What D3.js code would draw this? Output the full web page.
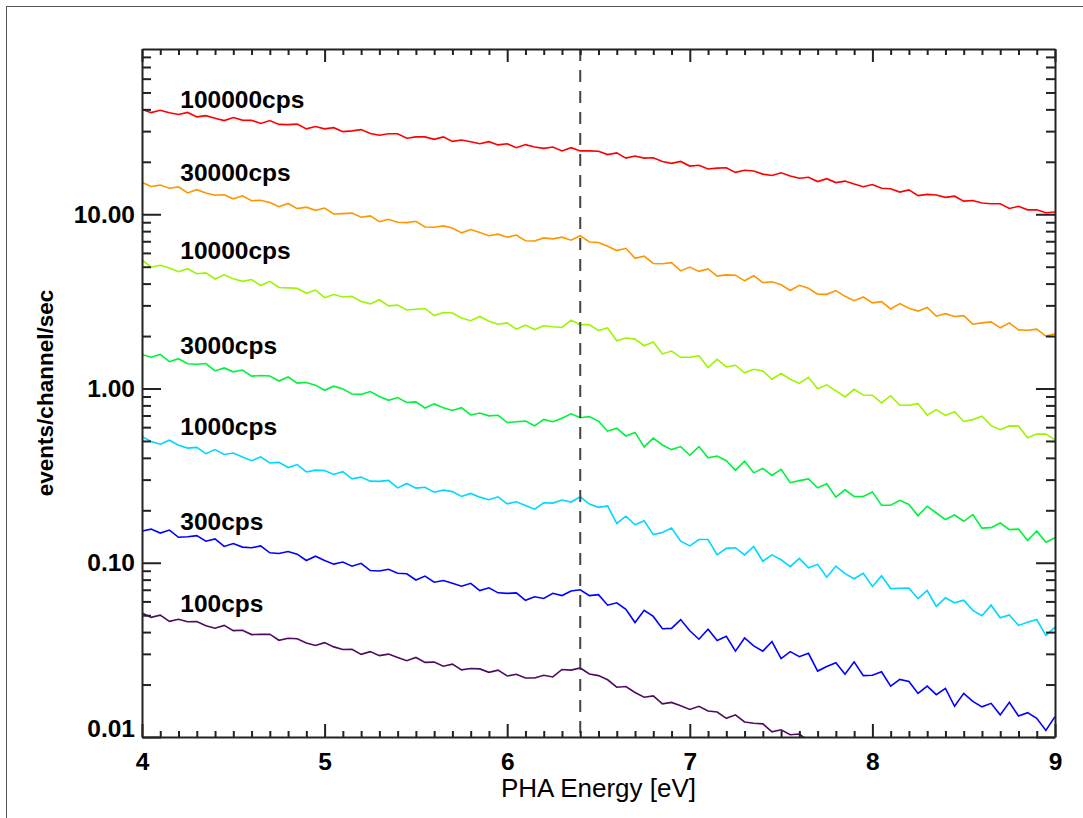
<!DOCTYPE html>
<html lang="en">

<head>
    <meta charset="UTF-8">
    <title>PHA Energy Spectra</title>
    <style>
        body {
            margin: 0;
            background: #fff;
        }

        svg text {
            font-family: "Liberation Sans", Arial, sans-serif;
        }
    </style>
</head>

<body>
    <svg width="1083" height="818"></svg>

    <script src="https://d3js.org/d3.v7.min.js"></script>
    <script>
        // channel energies (eV)
        const energy = [4.00, 4.05, 4.10, 4.15, 4.20, 4.25, 4.30, 4.35, 4.40, 4.45, 4.50, 4.55, 4.60, 4.65, 4.70, 4.75, 4.80, 4.85, 4.90, 4.95,
            5.00, 5.05, 5.10, 5.15, 5.20, 5.25, 5.30, 5.35, 5.40, 5.45, 5.50, 5.55, 5.60, 5.65, 5.70, 5.75, 5.80, 5.85, 5.90, 5.95,
            6.00, 6.05, 6.10, 6.15, 6.20, 6.25, 6.30, 6.35, 6.40, 6.45, 6.50, 6.55, 6.60, 6.65, 6.70, 6.75, 6.80, 6.85, 6.90, 6.95,
            7.00, 7.05, 7.10, 7.15, 7.20, 7.25, 7.30, 7.35, 7.40, 7.45, 7.50, 7.55, 7.60, 7.65, 7.70, 7.75, 7.80, 7.85, 7.90, 7.95,
            8.00, 8.05, 8.10, 8.15, 8.20, 8.25, 8.30, 8.35, 8.40, 8.45, 8.50, 8.55, 8.60, 8.65, 8.70, 8.75, 8.80, 8.85, 8.90, 8.95, 9.00];

        // events/channel/sec for each input rate
        const rate100000 = [40.0, 38.3, 39.5, 38.2, 37.4, 38.4, 36.2, 36.8, 35.6, 34.5,
            35.9, 34.7, 34.6, 33.2, 34.5, 32.8, 32.7, 32.9, 30.9, 31.9,
            30.9, 31.4, 29.8, 30.1, 30.6, 29.1, 28.4, 29.0, 29.0, 27.3,
            27.8, 27.8, 26.9, 27.8, 26.2, 26.7, 26.1, 25.4, 26.1, 25.0,
            25.4, 24.1, 25.1, 24.3, 23.9, 24.3, 23.1, 24.1, 23.1, 23.1,
            23.0, 22.0, 22.5, 21.0, 21.6, 21.0, 21.1, 20.1, 19.6, 20.1,
            18.9, 19.1, 18.2, 18.4, 18.5, 17.4, 17.9, 17.7, 17.0, 16.7,
            17.3, 16.6, 16.1, 16.3, 15.4, 16.0, 15.2, 15.5, 14.9, 14.4,
            14.8, 14.1, 14.0, 13.4, 13.8, 12.8, 13.0, 12.9, 12.5, 12.7,
            11.9, 12.0, 11.6, 11.5, 11.5, 10.8, 11.1, 10.6, 10.6, 10.2,
            10.3];

        const rate30000 = [15.25, 14.44, 14.70, 14.10, 14.35, 13.26, 13.83, 13.26, 12.86, 12.94,
            12.26, 12.77, 11.96, 12.03, 11.67, 11.05, 11.53, 10.78, 10.98, 10.53,
            10.85, 10.03, 10.09, 10.15, 9.61, 9.78, 9.06, 9.36, 8.99, 8.95,
            9.12, 8.45, 8.42, 8.58, 8.34, 7.82, 8.17, 7.85, 7.53, 7.69,
            7.38, 7.60, 7.05, 7.03, 7.32, 7.22, 7.39, 7.10, 7.53, 6.93,
            6.88, 6.55, 6.19, 6.38, 5.59, 5.75, 5.22, 5.20, 5.28, 4.73,
            4.98, 4.70, 4.86, 4.42, 4.49, 4.47, 4.15, 4.44, 4.05, 4.10,
            3.94, 3.65, 3.91, 3.76, 3.48, 3.47, 3.65, 3.38, 3.19, 3.35,
            3.10, 3.15, 2.86, 3.07, 2.89, 2.78, 2.92, 2.60, 2.69, 2.59,
            2.62, 2.34, 2.38, 2.41, 2.23, 2.38, 2.17, 2.16, 2.19, 2.00,
            2.06];

        const rate10000 = [5.47, 4.97, 5.10, 4.92, 4.68, 4.87, 4.56, 4.61, 4.25, 4.49,
            4.27, 4.12, 4.22, 3.90, 4.12, 3.80, 3.78, 3.76, 3.52, 3.67,
            3.32, 3.46, 3.35, 3.38, 3.16, 3.06, 3.23, 2.98, 3.01, 2.82,
            2.85, 2.88, 2.62, 2.73, 2.71, 2.54, 2.45, 2.59, 2.43, 2.34,
            2.38, 2.19, 2.31, 2.18, 2.29, 2.26, 2.24, 2.47, 2.32, 2.33,
            2.15, 2.23, 1.88, 1.95, 1.92, 1.76, 1.85, 1.58, 1.64, 1.51,
            1.51, 1.54, 1.32, 1.47, 1.33, 1.36, 1.23, 1.29, 1.26, 1.13,
            1.22, 1.13, 1.07, 1.16, 0.998, 1.05, 0.970, 0.895, 0.989, 0.917,
            0.915, 0.826, 0.909, 0.802, 0.801, 0.819, 0.702, 0.757, 0.701, 0.735,
            0.647, 0.663, 0.693, 0.612, 0.580, 0.610, 0.608, 0.521, 0.548, 0.547,
            0.507];

        const rate3000 = [1.567, 1.511, 1.570, 1.426, 1.482, 1.388, 1.379, 1.391, 1.262, 1.312,
            1.247, 1.276, 1.177, 1.187, 1.179, 1.104, 1.164, 1.074, 1.083, 1.045,
            0.977, 1.031, 0.995, 0.930, 0.925, 0.960, 0.900, 0.855, 0.888, 0.831,
            0.838, 0.773, 0.816, 0.775, 0.748, 0.776, 0.705, 0.723, 0.697, 0.702,
            0.638, 0.644, 0.650, 0.611, 0.665, 0.645, 0.675, 0.716, 0.679, 0.690,
            0.650, 0.569, 0.592, 0.534, 0.560, 0.462, 0.519, 0.474, 0.446, 0.464,
            0.414, 0.464, 0.400, 0.410, 0.385, 0.339, 0.383, 0.328, 0.348, 0.317,
            0.344, 0.288, 0.296, 0.303, 0.269, 0.284, 0.238, 0.262, 0.240, 0.240,
            0.255, 0.214, 0.214, 0.228, 0.216, 0.186, 0.211, 0.193, 0.177, 0.188,
            0.173, 0.189, 0.158, 0.159, 0.169, 0.155, 0.156, 0.134, 0.152, 0.131,
            0.139];

        const rate1000 = [0.531, 0.497, 0.479, 0.505, 0.473, 0.455, 0.459, 0.423, 0.446, 0.418,
            0.426, 0.405, 0.385, 0.405, 0.374, 0.377, 0.352, 0.366, 0.332, 0.340,
            0.338, 0.321, 0.333, 0.303, 0.310, 0.294, 0.293, 0.297, 0.269, 0.285,
            0.268, 0.271, 0.254, 0.261, 0.256, 0.240, 0.250, 0.238, 0.230, 0.239,
            0.218, 0.224, 0.213, 0.203, 0.221, 0.220, 0.229, 0.223, 0.239, 0.217,
            0.208, 0.212, 0.168, 0.185, 0.165, 0.174, 0.145, 0.149, 0.158, 0.133,
            0.125, 0.136, 0.136, 0.111, 0.121, 0.122, 0.111, 0.124, 0.102, 0.111,
            0.104, 0.0949, 0.106, 0.0935, 0.0979, 0.0826, 0.0957, 0.0866, 0.0809, 0.0869,
            0.0731, 0.0841, 0.0711, 0.0714, 0.0715, 0.0622, 0.0693, 0.0562, 0.0629, 0.0589,
            0.0610, 0.0533, 0.0497, 0.0571, 0.0483, 0.0502, 0.0437, 0.0455, 0.0472, 0.0382,
            0.0427];

        const rate300 = [0.152, 0.156, 0.148, 0.154, 0.140, 0.141, 0.143, 0.133, 0.137, 0.124,
            0.129, 0.123, 0.122, 0.125, 0.114, 0.113, 0.116, 0.112, 0.103, 0.109,
            0.103, 0.0982, 0.101, 0.0955, 0.0993, 0.0902, 0.0896, 0.0917, 0.0870, 0.0864,
            0.0796, 0.0839, 0.0773, 0.0791, 0.0762, 0.0734, 0.0762, 0.0692, 0.0718, 0.0672,
            0.0667, 0.0672, 0.0609, 0.0638, 0.0624, 0.0668, 0.0648, 0.0688, 0.0700, 0.0648,
            0.0656, 0.0571, 0.0589, 0.0540, 0.0454, 0.0534, 0.0492, 0.0418, 0.0420, 0.0472,
            0.0407, 0.0364, 0.0415, 0.0358, 0.0378, 0.0311, 0.0370, 0.0333, 0.0311, 0.0353,
            0.0282, 0.0309, 0.0289, 0.0302, 0.0239, 0.0254, 0.0267, 0.0229, 0.0270, 0.0225,
            0.0226, 0.0237, 0.0196, 0.0214, 0.0208, 0.0178, 0.0196, 0.0175, 0.0190, 0.0150,
            0.0178, 0.0160, 0.0149, 0.0156, 0.0134, 0.0158, 0.0132, 0.0138, 0.0128, 0.0109,
            0.0131];

        // drops below the plot floor after ~7.6 eV
        const rate100 = [0.0515, 0.0486, 0.0500, 0.0461, 0.0474, 0.0459, 0.0460, 0.0435, 0.0421, 0.0437,
            0.0408, 0.0410, 0.0387, 0.0388, 0.0389, 0.0359, 0.0369, 0.0366, 0.0346, 0.0335,
            0.0348, 0.0329, 0.0318, 0.0319, 0.0298, 0.0309, 0.0293, 0.0299, 0.0286, 0.0274,
            0.0286, 0.0268, 0.0269, 0.0255, 0.0262, 0.0243, 0.0247, 0.0246, 0.0235, 0.0242,
            0.0224, 0.0229, 0.0218, 0.0218, 0.0226, 0.0221, 0.0244, 0.0242, 0.0249, 0.0230,
            0.0225, 0.0213, 0.0193, 0.0195, 0.0180, 0.0169, 0.0172, 0.0155, 0.0158, 0.0151,
            0.0144, 0.0150, 0.0141, 0.0139, 0.0128, 0.0134, 0.0122, 0.0120, 0.0119, 0.0107,
            0.0110, 0.0103, 0.0104, 0.0095];

        const seriesNames = ["100000cps", "30000cps", "10000cps", "3000cps", "1000cps", "300cps", "100cps"];
        const seriesValues = [rate100000, rate30000, rate10000, rate3000, rate1000, rate300, rate100];
        const seriesColors = ["#ff0000", "#ff9600", "#9cf500", "#00f23c", "#00d8ff", "#0000ff", "#4e0c5e"];

        const xMajorTicks = [4, 5, 6, 7, 8, 9];
        const yMajorTicks = [0.01, 0.1, 1, 10];
        const lineEnergy = 6.4;

        const margin = { top: 49, right: 28, bottom: 81, left: 142 },
            width = 1083 - margin.left - margin.right,
            height = 818 - margin.top - margin.bottom;

        const root = d3.select("svg");

        // outer page frame (only top/left edges fall inside the picture)
        root.append("rect")
            .attr("x", 6.5)
            .attr("y", 6.5)
            .attr("width", 1200)
            .attr("height", 1000)
            .attr("fill", "none")
            .attr("stroke", "#555")
            .attr("stroke-width", 1);

        const svg = root.append("g")
            .attr("transform", `translate(${margin.left},${margin.top})`);

        const x = d3.scaleLinear()
            .domain([4, 9])
            .range([0, width]);

        const y = d3.scaleLog()
            .domain([0.01, 88.8])
            .range([height, 0]);

        svg.append("clipPath")
            .attr("id", "plot-clip")
            .append("rect")
            .attr("width", width)
            .attr("height", height);

        const line = d3.line()
            .x(d => x(d[0]))
            .y(d => y(d[1]));

        // spectra
        svg.append("g")
            .attr("clip-path", "url(#plot-clip)")
            .selectAll("path")
            .data(seriesValues)
            .enter().append("path")
            .attr("d", vals => line(vals.map((v, i) => [energy[i], v])))
            .attr("fill", "none")
            .attr("stroke", (d, i) => seriesColors[i])
            .attr("stroke-width", 1.6)
            .attr("stroke-linejoin", "miter");

        // Fe K line marker
        svg.append("line")
            .attr("x1", x(lineEnergy))
            .attr("x2", x(lineEnergy))
            .attr("y1", 0)
            .attr("y2", height)
            .attr("stroke", "#444")
            .attr("stroke-width", 2)
            .attr("stroke-dasharray", "12,9");

        // series labels
        svg.selectAll(".series-label")
            .data(seriesNames)
            .enter().append("text")
            .attr("class", "series-label")
            .attr("x", x(4.21))
            .attr("y", (d, i) => y(seriesValues[i][0]) - 1)
            .attr("font-size", 24.5)
            .attr("font-weight", "bold")
            .attr("fill", "#000")
            .text(d => d);

        const xMinor = x.ticks(50).filter(t => Math.abs(t - Math.round(t)) > 1e-6);
        const yMinor = y.ticks().filter(t => !yMajorTicks.some(m => Math.abs(m - t) / m < 1e-6));

        function styleAxis(g) {
            g.selectAll("path, line")
                .attr("stroke", "#222")
                .attr("stroke-width", 2);
            g.attr("font-family", "\"Liberation Sans\", Arial, sans-serif")
                .attr("font-size", 24.5)
                .attr("font-weight", "bold");
            g.selectAll("text").attr("fill", "#000");
        }

        function noDomain(g) {
            g.select(".domain").remove();
        }

        // bottom axis
        svg.append("g")
            .attr("transform", `translate(0,${height})`)
            .call(d3.axisBottom(x).tickValues(xMajorTicks).tickSizeInner(-13).tickSizeOuter(0)
                .tickPadding(16).tickFormat(d3.format("d")))
            .call(styleAxis);
        svg.append("g")
            .attr("transform", `translate(0,${height})`)
            .call(d3.axisBottom(x).tickValues(xMinor).tickSize(-6).tickFormat(""))
            .call(noDomain).call(styleAxis);

        // top axis
        svg.append("g")
            .call(d3.axisTop(x).tickValues(xMajorTicks).tickSizeInner(-13).tickSizeOuter(0).tickFormat(""))
            .call(styleAxis);
        svg.append("g")
            .call(d3.axisTop(x).tickValues(xMinor).tickSize(-6).tickFormat(""))
            .call(noDomain).call(styleAxis);

        // left axis
        svg.append("g")
            .attr("class", "y-left")
            .call(d3.axisLeft(y).tickValues(yMajorTicks).tickSizeInner(-19).tickSizeOuter(0)
                .tickPadding(7).tickFormat(d3.format(".2f")))
            .call(styleAxis);
        svg.append("g")
            .call(d3.axisLeft(y).tickValues(yMinor).tickSize(-9).tickFormat(""))
            .call(noDomain).call(styleAxis);

        // lowest label sits on the corner, lift it clear of the x axis
        svg.select(".y-left").selectAll(".tick text")
            .filter(d => d === 0.01)
            .attr("y", -8);

        // right axis
        svg.append("g")
            .attr("transform", `translate(${width},0)`)
            .call(d3.axisRight(y).tickValues(yMajorTicks).tickSizeInner(-19).tickSizeOuter(0).tickFormat(""))
            .call(styleAxis);
        svg.append("g")
            .attr("transform", `translate(${width},0)`)
            .call(d3.axisRight(y).tickValues(yMinor).tickSize(-9).tickFormat(""))
            .call(noDomain).call(styleAxis);

        // axis titles
        svg.append("text")
            .attr("x", width / 2)
            .attr("y", height + 60)
            .attr("text-anchor", "middle")
            .attr("font-size", 26)
            .attr("fill", "#000")
            .text("PHA Energy [eV]");

        svg.append("text")
            .attr("transform", "rotate(-90)")
            .attr("x", -height / 2)
            .attr("y", -89)
            .attr("text-anchor", "middle")
            .attr("font-size", 22.5)
            .attr("font-weight", "bold")
            .attr("fill", "#000")
            .text("events/channel/sec");
    </script>
</body>

</html>
